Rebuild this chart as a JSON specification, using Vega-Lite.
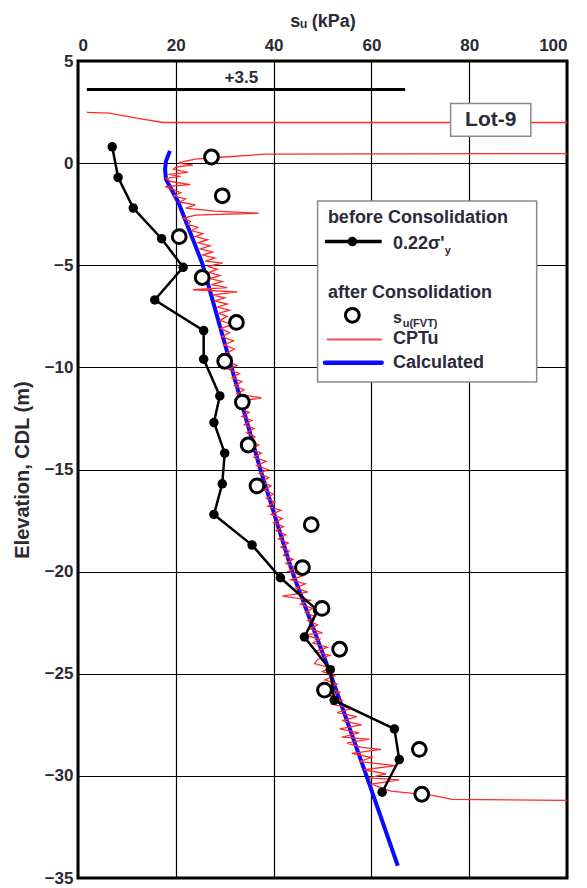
{
  "$schema": "https://vega.github.io/schema/vega-lite/v6.json",
  "width": 489,
  "height": 817,
  "autosize": {"type": "none"},
  "padding": {"left": 78, "top": 61, "right": 20, "bottom": 10},
  "background": "white",
  "config": {
    "view": {"stroke": "black", "strokeWidth": 3},
    "axis": {"gridColor": "black", "gridWidth": 1.2, "gridOpacity": 1, "ticks": false, "domain": false,
      "labelFont": "Liberation Sans", "labelFontWeight": "bold", "labelFontSize": 17, "labelColor": "#2a2a33",
      "titleFont": "Liberation Sans", "titleFontWeight": "bold", "titleColor": "#2a2a33"},
    "text": {"font": "Liberation Sans", "fontWeight": "bold", "color": "#2a2a3a"}
  },
  "datasets": {
    "black": [
      {"i": 1, "s": 7.0, "e": 0.8}, {"i": 2, "s": 8.2, "e": -0.7}, {"i": 3, "s": 11.3, "e": -2.2},
      {"i": 4, "s": 17.1, "e": -3.7}, {"i": 5, "s": 21.5, "e": -5.1}, {"i": 6, "s": 15.7, "e": -6.7},
      {"i": 7, "s": 25.7, "e": -8.2}, {"i": 8, "s": 25.7, "e": -9.6}, {"i": 9, "s": 29.0, "e": -11.4},
      {"i": 10, "s": 27.8, "e": -12.7}, {"i": 11, "s": 30.0, "e": -14.2}, {"i": 12, "s": 29.5, "e": -15.7},
      {"i": 13, "s": 27.8, "e": -17.2}, {"i": 14, "s": 35.6, "e": -18.7}, {"i": 15, "s": 41.4, "e": -20.3},
      {"i": 16, "s": 49.0, "e": -21.9}, {"i": 17, "s": 46.3, "e": -23.2}, {"i": 18, "s": 51.6, "e": -24.8},
      {"i": 19, "s": 52.4, "e": -26.3}, {"i": 20, "s": 64.7, "e": -27.7}, {"i": 21, "s": 65.7, "e": -29.2},
      {"i": 22, "s": 62.2, "e": -30.8}
    ],
    "fvt": [
      {"s": 27.3, "e": 0.3}, {"s": 29.5, "e": -1.6}, {"s": 20.7, "e": -3.6}, {"s": 25.4, "e": -5.6},
      {"s": 32.4, "e": -7.8}, {"s": 30.0, "e": -9.7}, {"s": 33.6, "e": -11.7}, {"s": 34.8, "e": -13.8},
      {"s": 36.6, "e": -15.8}, {"s": 47.7, "e": -17.7}, {"s": 45.9, "e": -19.8}, {"s": 49.9, "e": -21.8},
      {"s": 53.5, "e": -23.8}, {"s": 50.4, "e": -25.8}, {"s": 69.8, "e": -28.7}, {"s": 70.3, "e": -30.9}
    ],
    "calc": [
      {"i": 1, "s": 18.8, "e": 0.6}, {"i": 2, "s": 18.0, "e": 0.1}, {"i": 3, "s": 17.8, "e": -0.3},
      {"i": 4, "s": 18.0, "e": -0.8}, {"i": 5, "s": 20.5, "e": -1.9}, {"i": 6, "s": 25.4, "e": -4.9},
      {"i": 7, "s": 30.8, "e": -9.5}, {"i": 8, "s": 37.3, "e": -15.0}, {"i": 9, "s": 43.8, "e": -20.0},
      {"i": 10, "s": 51.6, "e": -25.0}, {"i": 11, "s": 59.0, "e": -30.0}, {"i": 12, "s": 65.4, "e": -34.4}
    ],
    "cptu": [
      {"i": 1, "s": 1.8, "e": 2.48}, {"i": 2, "s": 6.4, "e": 2.45}, {"i": 3, "s": 12, "e": 2.2}, {"i": 4, "s": 17.4, "e": 1.99},
      {"i": 5, "s": 130, "e": 1.99}, {"i": 6, "s": 130, "e": 0.48}, {"i": 7, "s": 38.4, "e": 0.44},
      {"i": 8, "s": 30, "e": 0.3}, {"i": 9, "s": 24, "e": 0.2}, {"i": 10, "s": 22, "e": 0.1}, {"i": 11, "s": 20.5, "e": 0.0},
      {"i": 12, "s": 23.5, "e": -0.1}, {"i": 13, "s": 20, "e": -0.2}, {"i": 14, "s": 19.5, "e": -0.3},
      {"i": 15, "s": 22.5, "e": -0.45}, {"i": 16, "s": 18.5, "e": -0.55}, {"i": 17, "s": 21, "e": -0.65},
      {"i": 18, "s": 18, "e": -0.75}, {"i": 19, "s": 19, "e": -0.9}, {"i": 20, "s": 23, "e": -1.05},
      {"i": 21, "s": 17.8, "e": -1.15}, {"i": 22, "s": 19.5, "e": -1.3}, {"i": 23, "s": 21, "e": -1.45},
      {"i": 24, "s": 19.5, "e": -1.6}, {"i": 25, "s": 22, "e": -1.75}, {"i": 26, "s": 20.8, "e": -1.9},
      {"i": 27, "s": 24, "e": -2.05}, {"i": 28, "s": 22, "e": -2.2}, {"i": 29, "s": 28, "e": -2.35},
      {"i": 30, "s": 37, "e": -2.45}, {"i": 31, "s": 24, "e": -2.55}, {"i": 32, "s": 21.5, "e": -2.7},
      {"i": 33, "s": 23, "e": -2.85}, {"i": 34, "s": 22.5, "e": -3.0}, {"i": 35, "s": 24.5, "e": -3.15},
      {"i": 36, "s": 23.2, "e": -3.3}, {"i": 37, "s": 25.5, "e": -3.45}, {"i": 38, "s": 24, "e": -3.6},
      {"i": 39, "s": 26.5, "e": -3.75}, {"i": 40, "s": 24.5, "e": -3.9}, {"i": 41, "s": 27, "e": -4.05},
      {"i": 42, "s": 25, "e": -4.2}, {"i": 43, "s": 27.5, "e": -4.35}, {"i": 44, "s": 25.5, "e": -4.5},
      {"i": 45, "s": 28, "e": -4.65}, {"i": 46, "s": 26, "e": -4.8}, {"i": 47, "s": 29.6, "e": -4.9},
      {"i": 48, "s": 26.5, "e": -5.05}, {"i": 49, "s": 28.5, "e": -5.2}, {"i": 50, "s": 26.8, "e": -5.35},
      {"i": 51, "s": 29, "e": -5.5}, {"i": 52, "s": 27, "e": -5.65}, {"i": 53, "s": 29.5, "e": -5.8},
      {"i": 54, "s": 27.3, "e": -5.95}, {"i": 55, "s": 30.5, "e": -6.1}, {"i": 56, "s": 23.5, "e": -6.2},
      {"i": 57, "s": 32.6, "e": -6.3}, {"i": 58, "s": 27.5, "e": -6.45}, {"i": 59, "s": 30, "e": -6.6},
      {"i": 60, "s": 28, "e": -6.75}, {"i": 61, "s": 30.5, "e": -6.9}, {"i": 62, "s": 28.5, "e": -7.05},
      {"i": 63, "s": 31, "e": -7.2}, {"i": 64, "s": 28.8, "e": -7.35}, {"i": 65, "s": 30.5, "e": -7.5},
      {"i": 66, "s": 29, "e": -7.7}, {"i": 67, "s": 31.5, "e": -7.9}, {"i": 68, "s": 29.2, "e": -8.1},
      {"i": 69, "s": 31, "e": -8.3}, {"i": 70, "s": 29.5, "e": -8.5}, {"i": 71, "s": 31.8, "e": -8.7},
      {"i": 72, "s": 29.8, "e": -8.9}, {"i": 73, "s": 32, "e": -9.1}, {"i": 74, "s": 30.3, "e": -9.3},
      {"i": 75, "s": 31.5, "e": -9.5}, {"i": 76, "s": 30.5, "e": -9.7}, {"i": 77, "s": 32.5, "e": -9.9},
      {"i": 78, "s": 30.8, "e": -10.1}, {"i": 79, "s": 33, "e": -10.3}, {"i": 80, "s": 31.5, "e": -10.5},
      {"i": 81, "s": 33.5, "e": -10.7}, {"i": 82, "s": 32, "e": -10.9}, {"i": 83, "s": 34, "e": -11.1},
      {"i": 84, "s": 32.5, "e": -11.3}, {"i": 85, "s": 37.5, "e": -11.5}, {"i": 86, "s": 33, "e": -11.65},
      {"i": 87, "s": 34.5, "e": -11.8}, {"i": 88, "s": 33, "e": -12.0}, {"i": 89, "s": 35, "e": -12.2},
      {"i": 90, "s": 33.5, "e": -12.4}, {"i": 91, "s": 35.5, "e": -12.6}, {"i": 92, "s": 34, "e": -12.8},
      {"i": 93, "s": 36, "e": -13.0}, {"i": 94, "s": 34.5, "e": -13.2}, {"i": 95, "s": 36.2, "e": -13.4},
      {"i": 96, "s": 35, "e": -13.6}, {"i": 97, "s": 37, "e": -13.8}, {"i": 98, "s": 35.5, "e": -14.0},
      {"i": 99, "s": 37.5, "e": -14.2}, {"i": 100, "s": 36, "e": -14.4}, {"i": 101, "s": 38.5, "e": -14.6},
      {"i": 102, "s": 36.5, "e": -14.8}, {"i": 103, "s": 38.8, "e": -15.0}, {"i": 104, "s": 37, "e": -15.2},
      {"i": 105, "s": 39, "e": -15.4}, {"i": 106, "s": 37.5, "e": -15.6}, {"i": 107, "s": 39.5, "e": -15.8},
      {"i": 108, "s": 38, "e": -16.0}, {"i": 109, "s": 40, "e": -16.2}, {"i": 110, "s": 38.5, "e": -16.4},
      {"i": 111, "s": 40.3, "e": -16.6}, {"i": 112, "s": 38.8, "e": -16.8}, {"i": 113, "s": 41.5, "e": -17.0},
      {"i": 114, "s": 39.5, "e": -17.2}, {"i": 115, "s": 41.8, "e": -17.4}, {"i": 116, "s": 40, "e": -17.6},
      {"i": 117, "s": 42, "e": -17.8}, {"i": 118, "s": 40.5, "e": -18.0}, {"i": 119, "s": 42.5, "e": -18.2},
      {"i": 120, "s": 41, "e": -18.4}, {"i": 121, "s": 43, "e": -18.6}, {"i": 122, "s": 41.5, "e": -18.8},
      {"i": 123, "s": 43.2, "e": -19.0}, {"i": 124, "s": 42, "e": -19.2}, {"i": 125, "s": 44, "e": -19.4},
      {"i": 126, "s": 42.5, "e": -19.6}, {"i": 127, "s": 44.5, "e": -19.8}, {"i": 128, "s": 43, "e": -20.0},
      {"i": 129, "s": 46, "e": -20.2}, {"i": 130, "s": 43.5, "e": -20.4}, {"i": 131, "s": 46.5, "e": -20.6},
      {"i": 132, "s": 44.5, "e": -20.8}, {"i": 133, "s": 47, "e": -21.0}, {"i": 134, "s": 41.8, "e": -21.2},
      {"i": 135, "s": 47.5, "e": -21.4}, {"i": 136, "s": 45.5, "e": -21.6}, {"i": 137, "s": 48, "e": -21.8},
      {"i": 138, "s": 46.5, "e": -22.0}, {"i": 139, "s": 48.5, "e": -22.2}, {"i": 140, "s": 47, "e": -22.4},
      {"i": 141, "s": 49, "e": -22.6}, {"i": 142, "s": 47.5, "e": -22.8}, {"i": 143, "s": 50, "e": -23.0},
      {"i": 144, "s": 45.9, "e": -23.1}, {"i": 145, "s": 49.5, "e": -23.3}, {"i": 146, "s": 48, "e": -23.5},
      {"i": 147, "s": 51, "e": -23.7}, {"i": 148, "s": 48.5, "e": -23.9}, {"i": 149, "s": 51.5, "e": -24.1},
      {"i": 150, "s": 49, "e": -24.3}, {"i": 151, "s": 48.4, "e": -24.5}, {"i": 152, "s": 51.5, "e": -24.7},
      {"i": 153, "s": 50, "e": -24.9}, {"i": 154, "s": 52.5, "e": -25.1}, {"i": 155, "s": 50.5, "e": -25.3},
      {"i": 156, "s": 53, "e": -25.5}, {"i": 157, "s": 51, "e": -25.7}, {"i": 158, "s": 53.5, "e": -25.9},
      {"i": 159, "s": 51.5, "e": -26.1}, {"i": 160, "s": 54, "e": -26.3}, {"i": 161, "s": 52, "e": -26.5},
      {"i": 162, "s": 56, "e": -26.7}, {"i": 163, "s": 53, "e": -26.9}, {"i": 164, "s": 57, "e": -27.1},
      {"i": 165, "s": 54, "e": -27.3}, {"i": 166, "s": 58, "e": -27.5}, {"i": 167, "s": 53.5, "e": -27.7},
      {"i": 168, "s": 57.5, "e": -27.9}, {"i": 169, "s": 54, "e": -28.1}, {"i": 170, "s": 59.6, "e": -28.2},
      {"i": 171, "s": 55, "e": -28.4}, {"i": 172, "s": 58, "e": -28.6}, {"i": 173, "s": 62, "e": -28.7},
      {"i": 174, "s": 56, "e": -28.9}, {"i": 175, "s": 60, "e": -29.1}, {"i": 176, "s": 57.5, "e": -29.3},
      {"i": 177, "s": 65, "e": -29.5}, {"i": 178, "s": 58.5, "e": -29.7}, {"i": 179, "s": 63, "e": -29.9},
      {"i": 180, "s": 59.5, "e": -30.1}, {"i": 181, "s": 65.7, "e": -30.2}, {"i": 182, "s": 60, "e": -30.4},
      {"i": 183, "s": 62.2, "e": -30.6}, {"i": 184, "s": 64, "e": -30.75}, {"i": 185, "s": 72.5, "e": -30.95},
      {"i": 186, "s": 76.5, "e": -31.15}, {"i": 187, "s": 100, "e": -31.2}, {"i": 188, "s": 130, "e": -31.2}
    ]
  },
  "encoding": {
    "x": {"field": "s", "type": "quantitative",
      "scale": {"domain": [0, 100], "nice": false, "zero": false},
      "axis": {"orient": "top", "values": [0, 20, 40, 60, 80, 100], "labelPadding": 7, "title": "sᵤ (kPa)", "titleFontSize": 18, "titlePadding": 6}},
    "y": {"field": "e", "type": "quantitative",
      "scale": {"domain": [-35, 5], "nice": false, "zero": false},
      "axis": {"values": [-35, -30, -25, -20, -15, -10, -5, 0, 5], "labelPadding": 5, "title": "Elevation, CDL (m)", "titleFontSize": 20, "titlePadding": 12}}
  },
  "layer": [
    {"data": {"name": "calc"}, "mark": {"type": "line", "color": "#0a0aff", "strokeWidth": 4, "clip": true},
      "encoding": {"order": {"field": "i", "type": "quantitative"}}},
    {"data": {"name": "cptu"}, "mark": {"type": "line", "color": "#ff2a2a", "strokeWidth": 1.3, "clip": true},
      "encoding": {"order": {"field": "i", "type": "quantitative"}}},
    {"data": {"name": "black"}, "mark": {"type": "line", "color": "black", "strokeWidth": 2.5, "point": {"filled": true, "color": "black", "size": 90}},
      "encoding": {"order": {"field": "i", "type": "quantitative"}}},
    {"data": {"name": "fvt"}, "mark": {"type": "point", "shape": "circle", "filled": false, "fill": "white", "fillOpacity": 1, "stroke": "black", "strokeWidth": 3, "size": 190, "opacity": 1}},
    {"data": {"values": [{"s": 1.8, "e": 3.6}, {"s": 66.9, "e": 3.6}]}, "mark": {"type": "line", "color": "black", "strokeWidth": 3},
      "encoding": {}},
    {"data": {"values": [{"s": 33.4, "e": 4.18, "t": "+3.5"}]}, "mark": {"type": "text", "fontSize": 17, "align": "center", "baseline": "middle"},
      "encoding": {"text": {"field": "t"}}},
    {"data": {"values": [{"s": 76.2, "s2": 92.6, "e": 2.92, "e2": 1.32}]}, "mark": {"type": "rect", "fill": "white", "stroke": "#8a8a8a", "strokeWidth": 1.5},
      "encoding": {"x2": {"field": "s2"}, "y2": {"field": "e2"}}},
    {"data": {"values": [{"s": 84.4, "e": 2.12, "t": "Lot-9"}]}, "mark": {"type": "text", "fontSize": 21, "align": "center", "baseline": "middle"},
      "encoding": {"text": {"field": "t"}}},
    {"data": {"values": [{"s": 49.0, "s2": 93.8, "e": -1.86, "e2": -10.72}]}, "mark": {"type": "rect", "fill": "white", "stroke": "#8a8a8a", "strokeWidth": 1.5},
      "encoding": {"x2": {"field": "s2"}, "y2": {"field": "e2"}}},
    {"data": {"values": [{"s": 50.5, "e": -3.84}, {"s": 62.1, "e": -3.84}]}, "mark": {"type": "line", "color": "black", "strokeWidth": 3.5},
      "encoding": {}},
    {"data": {"values": [{"s": 56.1, "e": -3.84}]}, "mark": {"type": "point", "shape": "circle", "filled": true, "color": "black", "size": 90, "opacity": 1}},
    {"data": {"values": [{"s": 56.1, "e": -7.45}]}, "mark": {"type": "point", "shape": "circle", "filled": false, "fill": "white", "fillOpacity": 1, "stroke": "black", "strokeWidth": 3, "size": 190, "opacity": 1}},
    {"data": {"values": [{"s": 50.9, "e": -8.63}, {"s": 62.1, "e": -8.63}]}, "mark": {"type": "line", "color": "#ff4a4a", "strokeWidth": 2},
      "encoding": {}},
    {"data": {"values": [{"s": 50.5, "e": -9.77}, {"s": 62.1, "e": -9.77}]}, "mark": {"type": "line", "color": "#0a0aff", "strokeWidth": 4.5, "strokeCap": "round"},
      "encoding": {}},
    {"data": {"values": [
        {"s": 51.1, "e": -2.67, "t": "before Consolidation", "fs": 18},
        {"s": 64.4, "e": -3.98, "t": "0.22σ'", "fs": 18},
        {"s": 51.1, "e": -6.35, "t": "after Consolidation", "fs": 18},
        {"s": 64.4, "e": -7.6, "t": "s", "fs": 16},
        {"s": 64.4, "e": -8.63, "t": "CPTu", "fs": 18},
        {"s": 64.4, "e": -9.81, "t": "Calculated", "fs": 18}
      ]},
      "mark": {"type": "text", "align": "left", "baseline": "middle"},
      "encoding": {"text": {"field": "t"}, "size": {"field": "fs", "type": "quantitative", "scale": null}}},
    {"data": {"values": [
        {"s": 75.0, "e": -4.3, "t": "y"},
        {"s": 66.4, "e": -7.86, "t": "u(FVT)"}
      ]},
      "mark": {"type": "text", "align": "left", "baseline": "middle", "fontSize": 11},
      "encoding": {"text": {"field": "t"}}}
  ]
}
